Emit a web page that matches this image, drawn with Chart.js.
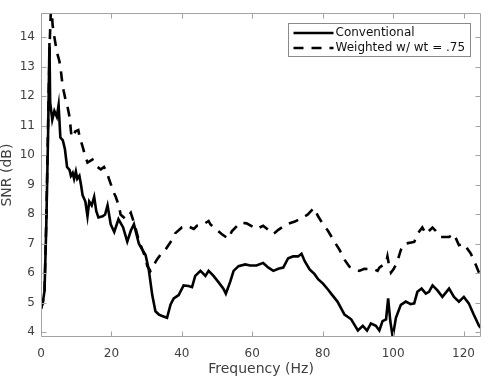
<!DOCTYPE html>
<html>
<head>
<meta charset="utf-8">
<script src="https://cdn.jsdelivr.net/npm/chart.js@4.4.1/dist/chart.umd.min.js"></script>
<style>
  html, body { margin: 0; padding: 0; background: #fff; }
  canvas { display: block; }
</style>
</head>
<body>
<canvas id="snr-chart" width="485" height="379"></canvas>
<script>
(function () {
  "use strict";

  // values
  var convFreq = [0, 0.5, 1.0, 1.5, 2.0, 2.4, 2.6, 3.2, 3.8, 4.5, 5.0, 5.5, 6.2, 6.8, 7.4, 8.1, 8.5, 9.0, 9.4, 9.9,
    10.3, 10.9, 11.4, 11.8, 12.6, 13.2, 13.7, 14.4, 15.1, 15.7, 16.3, 17.5, 18.2, 18.9, 19.8, 20.8, 22.0, 23.3, 24.5,
    25.5, 26.4, 27.1, 27.8, 28.8, 29.7, 30.6, 31.6, 32.5, 33.5, 34.4, 35.8, 36.8, 37.7, 39.1, 40.5,
    41.9, 42.9, 43.8, 45.3, 46.7, 47.6, 49.0, 50.4, 51.8, 52.5, 53.7, 54.7, 56.1, 58.0, 59.4, 61.2,
    63.1, 64.6, 66.0, 67.4, 68.8, 70.2, 71.6, 73.0, 74.0, 74.9, 76.3, 77.7, 78.7, 80.1, 81.5, 82.4,
    84.2, 86.2, 88.1, 90.0, 91.4, 92.6, 93.7, 95.1, 96.1, 97.0, 98.0, 98.6, 99.2, 99.9, 100.8,
    102.2, 103.6, 105.0, 106.0, 106.9, 108.1, 109.3, 110.2, 111.2, 112.6, 114.0, 115.9, 117.3,
    118.7, 120.1, 121.5, 122.9, 124.4, 125];
  var convSnr = [4.8, 5.0, 5.4, 7.6, 10.6, 13.8, 11.8, 11.2, 11.5, 11.3, 11.7, 10.6, 10.5, 10.2, 9.6, 9.5, 9.3, 9.4, 9.2, 9.45,
    9.2, 9.3, 8.97, 8.65, 8.43, 7.93, 8.43, 8.3, 8.59, 8.1, 7.89, 7.93, 7.99, 8.3, 7.66, 7.4, 7.83, 7.56, 7.07,
    7.44, 7.66, 7.33, 7.0, 6.79, 6.62, 6.13, 5.26, 4.71, 4.6, 4.55, 4.49, 4.94, 5.15, 5.26, 5.59,
    5.57, 5.53, 5.91, 6.08, 5.91, 6.08, 5.91, 5.7, 5.48, 5.31, 5.7, 6.08, 6.24, 6.3, 6.26, 6.26,
    6.35, 6.19, 6.08, 6.15, 6.19, 6.51, 6.57, 6.57, 6.66, 6.41, 6.13, 5.97, 5.8, 5.65, 5.45, 5.31,
    5.04, 4.6, 4.44, 4.06, 4.22, 4.06, 4.3, 4.22, 4.06, 4.38, 4.44, 5.15, 4.38, 3.84, 4.49,
    4.93, 5.04, 4.95, 4.98, 5.37, 5.48, 5.31, 5.37, 5.59, 5.42, 5.2, 5.48, 5.2,
    5.04, 5.2, 4.98, 4.6, 4.22, 4.14];

  var wtdFreq = [0, 0.5, 1.0, 1.5, 2.0, 2.5, 2.9, 3.3, 3.8, 4.5, 5.2, 5.6, 6.0, 6.4, 7.1, 7.6, 8.1, 8.6,
    9.1, 9.7, 10.6, 11.0, 11.8, 12.5, 13.2, 14.6, 15.3, 16.0, 17.0, 17.9, 18.6, 19.3, 19.8, 20.8,
    21.2, 22.2, 22.6, 24.1, 25.5, 26.7, 27.8, 28.8, 29.7, 30.2, 31.1, 32.9, 33.9, 35.3, 36.8, 37.7,
    38.1, 40.0, 41.5, 43.4, 44.3, 46.0, 47.6, 48.1, 50.4, 51.3, 53.2, 54.2, 56.5, 58.4, 61.2, 63.1,
    66.0, 67.4, 69.7, 72.1, 74.9, 75.8, 77.5, 78.7, 80.1, 81.5, 83.4, 84.8, 86.2, 87.6, 90.4, 91.8,
    94.7, 95.6, 96.1, 98.0, 98.4, 98.9, 99.4, 100.1, 101.1, 102.2, 103.3, 106.0, 106.9, 108.3,
    109.3, 111.2, 112.1, 113.5, 115.9, 117.3, 118.7, 120.1, 122.0, 122.9, 124.4, 125];
  var wtdSnr = [4.8, 5.0, 5.4, 7.8, 11.0, 13.9, 15.2, 14.4, 14.0, 13.5, 13.2, 12.9, 12.5, 12.2, 11.8, 11.6, 11.3, 10.7,
    10.6, 10.8, 10.85, 10.6, 10.3, 10.0, 9.75, 9.85, 9.7, 9.6, 9.52, 9.6, 9.45, 9.2, 9.03, 8.7,
    8.6, 8.26, 7.99, 7.83, 8.05, 7.6, 7.1, 6.8, 6.5, 6.24, 6.08, 6.46, 6.62, 6.79, 7.06, 7.2,
    7.35, 7.55, 7.61, 7.5, 7.61, 7.65, 7.77, 7.66, 7.42, 7.33, 7.17, 7.42, 7.71, 7.69, 7.5, 7.61,
    7.33, 7.47, 7.66, 7.75, 7.93, 7.99, 8.21, 7.93, 7.66, 7.44, 7.06, 6.79, 6.46, 6.22, 6.08, 6.15,
    6.13, 6.08, 6.19, 6.35, 6.57, 6.24, 6.02, 6.13, 6.35, 6.79, 7.0, 7.06, 7.33, 7.55,
    7.33, 7.55, 7.44, 7.23, 7.23, 7.33, 6.95, 7.0, 6.68, 6.46, 6.02, 5.9];

  var xTickValues = [0, 20, 40, 60, 80, 100, 120];
  var yTickValues = [4, 5, 6, 7, 8, 9, 10, 11, 12, 13, 14];
  var seriesLabels = ["Conventional", "Weighted w/ wt = .75"];
  var xTitle = "Frequency (Hz)";
  var yTitle = "SNR (dB)";

  var FONT = "'DejaVu Sans', Verdana, sans-serif";
  var AXIS_COLOR = "#a3a3a3";
  var TEXT_COLOR = "#404040";

  function toPoints(xs, ys) {
    return xs.map(function (x, i) {
      return { x: x, y: ys[i] };
    });
  }

  // MATLAB-like box with ticks pointing inward on all four sides
  var axisBox = {
    id: "axisBox",
    afterDatasetsDraw: function (chart) {
      var ctx = chart.ctx;
      var a = chart.chartArea;
      var xs = chart.scales.x;
      var ys = chart.scales.y;
      var L = Math.round(a.left) + 0.5;
      var R = Math.round(a.right) - 0.5;
      var T = Math.round(a.top) + 0.5;
      var B = Math.round(a.bottom) - 0.5;
      var len = 5;
      ctx.save();
      ctx.strokeStyle = AXIS_COLOR;
      ctx.lineWidth = 1;
      ctx.setLineDash([]);
      ctx.beginPath();
      ctx.rect(L, T, R - L, B - T);
      xTickValues.forEach(function (v) {
        var px = Math.round(xs.getPixelForValue(v)) + 0.5;
        ctx.moveTo(px, B);
        ctx.lineTo(px, B - len);
        ctx.moveTo(px, T);
        ctx.lineTo(px, T + len);
      });
      yTickValues.forEach(function (v) {
        var py = Math.round(ys.getPixelForValue(v)) + 0.5;
        ctx.moveTo(L, py);
        ctx.lineTo(L + len, py);
        ctx.moveTo(R, py);
        ctx.lineTo(R - len, py);
      });
      ctx.stroke();
      ctx.restore();
    },
  };

  // framed legend in the upper right corner of the plot
  var boxLegend = {
    id: "boxLegend",
    afterDraw: function (chart) {
      var ctx = chart.ctx;
      var a = chart.chartArea;
      ctx.save();
      ctx.font = "12px " + FONT;
      var textW = 0;
      chart.data.datasets.forEach(function (ds) {
        textW = Math.max(textW, ctx.measureText(ds.label).width);
      });
      var lineLen = 40;
      var w = 5 + lineLen + 2 + textW + 5;
      var h = 33;
      var right = Math.round(a.right - 11) + 0.5;
      var top = Math.round(a.top + 10) + 0.5;
      var left = right - Math.round(w);

      ctx.fillStyle = "#fff";
      ctx.fillRect(left, top, right - left, h);
      ctx.strokeStyle = "#8a8a8a";
      ctx.lineWidth = 1;
      ctx.strokeRect(left, top, right - left, h);

      chart.data.datasets.forEach(function (ds, i) {
        var cy = top + 9.5 + i * 15;
        ctx.strokeStyle = ds.borderColor;
        ctx.lineWidth = ds.borderWidth;
        ctx.setLineDash(ds.borderDash || []);
        ctx.beginPath();
        ctx.moveTo(left + 5, cy);
        ctx.lineTo(left + 5 + lineLen, cy);
        ctx.stroke();
        ctx.setLineDash([]);
        ctx.fillStyle = "#111";
        ctx.textBaseline = "middle";
        ctx.textAlign = "left";
        ctx.fillText(ds.label, left + 5 + lineLen + 2, cy);
      });
      ctx.restore();
    },
  };

  Chart.defaults.font.family = FONT;
  Chart.defaults.color = TEXT_COLOR;

  new Chart(document.getElementById("snr-chart"), {
    type: "line",
    data: {
      datasets: [
        {
          label: seriesLabels[0],
          data: toPoints(convFreq, convSnr),
          borderColor: "#000",
          borderWidth: 2.6,
          pointRadius: 0,
          tension: 0,
          fill: false,
        },
        {
          label: seriesLabels[1],
          data: toPoints(wtdFreq, wtdSnr),
          borderColor: "#000",
          borderWidth: 2.6,
          borderDash: [10, 8],
          pointRadius: 0,
          tension: 0,
          fill: false,
        },
      ],
    },
    options: {
      responsive: false,
      animation: false,
      layout: { padding: { top: 2, right: 1, left: 0, bottom: 0 } },
      plugins: {
        legend: { display: false },
        tooltip: { enabled: false },
      },
      scales: {
        x: {
          type: "linear",
          min: 0,
          max: 125,
          afterBuildTicks: function (scale) {
            scale.ticks = xTickValues.map(function (v) { return { value: v }; });
          },
          afterFit: function (scale) { scale.height = 42; },
          grid: { display: false, drawTicks: false },
          border: { display: false },
          ticks: { color: TEXT_COLOR, font: { size: 12 }, padding: 10, maxRotation: 0 },
          title: {
            display: true,
            text: xTitle,
            color: TEXT_COLOR,
            font: { size: 14, lineHeight: 1.2 },
            padding: { top: 0, bottom: 1 },
          },
        },
        y: {
          type: "linear",
          min: 3.84,
          max: 14.81,
          afterBuildTicks: function (scale) {
            scale.ticks = yTickValues.map(function (v) { return { value: v }; });
          },
          afterFit: function (scale) { scale.width = 41; },
          grid: { display: false, drawTicks: false },
          border: { display: false },
          ticks: { color: TEXT_COLOR, font: { size: 12 }, padding: 6 },
          title: {
            display: true,
            text: yTitle,
            color: TEXT_COLOR,
            font: { size: 14, lineHeight: 1.07 },
            padding: { top: 0, bottom: 0 },
          },
        },
      },
    },
    plugins: [axisBox, boxLegend],
  });
})();
</script>
</body>
</html>
